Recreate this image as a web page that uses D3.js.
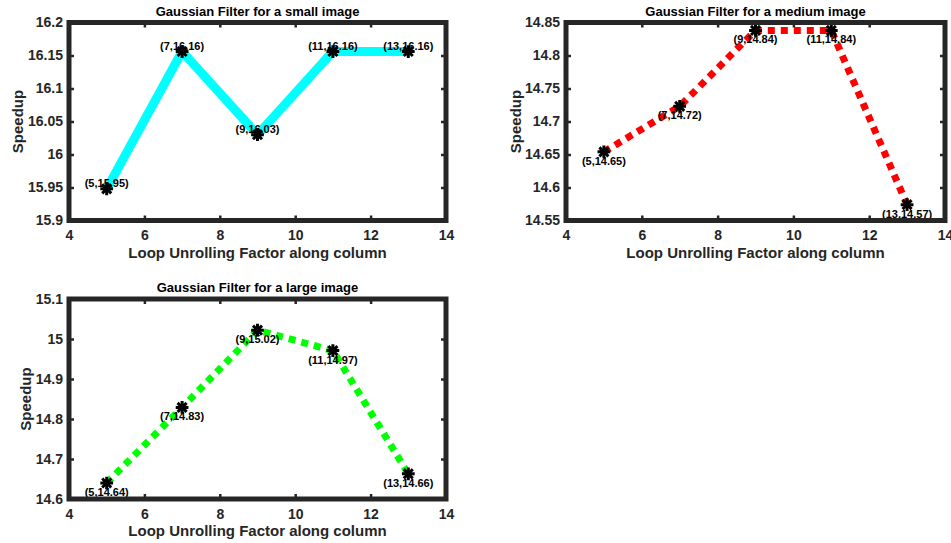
<!DOCTYPE html>
<html>
<head>
<meta charset="utf-8">
<script src="https://cdn.jsdelivr.net/npm/d3@7"></script>
<style>
  body { margin: 0; background: #fff; }
  svg { display: block; font-family: "Liberation Sans", Arial, sans-serif; }
</style>
</head>
<body>
<svg id="chart" width="951" height="543"></svg>
<script>
// Data
const unrollFactors = [5, 7, 9, 11, 13];
const smallSpeedup = [15.948, 16.156, 16.030, 16.156, 16.156];
const mediumSpeedup = [14.654, 14.723, 14.838, 14.838, 14.574];
const largeSpeedup = [14.640, 14.829, 15.022, 14.971, 14.663];

const xTicks = [4, 6, 8, 10, 12, 14];
const smallTicks = [15.9, 15.95, 16, 16.05, 16.1, 16.15, 16.2];
const mediumTicks = [14.55, 14.6, 14.65, 14.7, 14.75, 14.8, 14.85];
const largeTicks = [14.6, 14.7, 14.8, 14.9, 15, 15.1];

const titles = ["Gaussian Filter for a small image",
                "Gaussian Filter for a medium image",
                "Gaussian Filter for a large image"];

const axisColor = "#262626";
const svg = d3.select("#chart");

// panel layout
const panels = [
    { title: titles[0], values: smallSpeedup, ticks: smallTicks, color: "#00ffff", dash: null,
      left: 69, right: 446, top: 22.5, bottom: 220.5, ylabelX: 17, labelDy: -6 },
    { title: titles[1], values: mediumSpeedup, ticks: mediumTicks, color: "#ff0000", dash: "7,6",
      left: 566, right: 945, top: 22.5, bottom: 220.5, ylabelX: 515, labelDy: 9 },
    { title: titles[2], values: largeSpeedup, ticks: largeTicks, color: "#00ff00", dash: "7,6",
      left: 69, right: 446, top: 299, bottom: 499, ylabelX: 25, labelDy: 9 }
];

const fmt = d => String(+d.toFixed(2));
const pointFmt = d3.format(".2f");

panels.forEach(p => {
    const x = d3.scaleLinear().domain([4, 14]).range([p.left, p.right]);
    const y = d3.scaleLinear().domain(d3.extent(p.ticks)).range([p.bottom, p.top]);
    const g = svg.append("g");

    // axes with inward ticks
    const styleAxis = sel => {
        sel.select(".domain").remove();
        sel.selectAll(".tick line").attr("stroke", axisColor).attr("stroke-width", 2.5);
        sel.selectAll(".tick text")
            .attr("fill", axisColor)
            .style("font-size", "14px")
            .style("font-weight", "bold");
    };
    g.append("g").attr("transform", `translate(0,${p.bottom})`)
        .call(d3.axisBottom(x).tickValues(xTicks).tickFormat(fmt).tickSizeInner(-5).tickSizeOuter(0).tickPadding(10))
        .call(styleAxis);
    g.append("g").attr("transform", `translate(0,${p.top})`)
        .call(d3.axisTop(x).tickValues(xTicks).tickFormat("").tickSizeInner(-5).tickSizeOuter(0))
        .call(styleAxis);
    g.append("g").attr("transform", `translate(${p.left},0)`)
        .call(d3.axisLeft(y).tickValues(p.ticks).tickFormat(fmt).tickSizeInner(-5).tickSizeOuter(0).tickPadding(6))
        .call(styleAxis);
    g.append("g").attr("transform", `translate(${p.right},0)`)
        .call(d3.axisRight(y).tickValues(p.ticks).tickFormat("").tickSizeInner(-5).tickSizeOuter(0))
        .call(styleAxis);

    // series line
    const pts = unrollFactors.map((f, i) => [f, p.values[i]]);
    g.append("path")
        .datum(pts)
        .attr("fill", "none")
        .attr("stroke", p.color)
        .attr("stroke-width", p.dash ? 7 : 9)
        .attr("stroke-dasharray", p.dash)
        .attr("stroke-linejoin", "round")
        .attr("d", d3.line().x(d => x(d[0])).y(d => y(d[1])));

    // star markers
    [d3.symbolPlus, d3.symbolTimes].forEach(sym => {
        g.append("g").selectAll("path")
            .data(pts)
            .join("path")
            .attr("transform", d => `translate(${x(d[0])},${y(d[1])})`)
            .attr("d", d3.symbol().type(sym).size(55))
            .attr("fill", "none")
            .attr("stroke", "#000")
            .attr("stroke-width", 3);
    });

    // point labels
    g.append("g").selectAll("text")
        .data(pts)
        .join("text")
        .attr("x", d => x(d[0]))
        .attr("y", d => y(d[1]) + p.labelDy)
        .attr("text-anchor", "middle")
        .attr("dominant-baseline", "central")
        .style("font-size", "11px")
        .style("font-weight", "bold")
        .attr("fill", "#000")
        .text(d => `(${d[0]},${pointFmt(d[1])})`);

    // box
    g.append("rect")
        .attr("x", p.left).attr("y", p.top)
        .attr("width", p.right - p.left).attr("height", p.bottom - p.top)
        .attr("fill", "none")
        .attr("stroke", axisColor)
        .attr("stroke-width", 5);

    // titles and labels
    const cx = (p.left + p.right) / 2;
    g.append("text")
        .attr("x", cx).attr("y", p.top - 7)
        .attr("text-anchor", "middle")
        .style("font-size", "13px").style("font-weight", "bold")
        .attr("fill", "#000")
        .text(p.title);
    g.append("text")
        .attr("x", cx).attr("y", p.bottom + 37)
        .attr("text-anchor", "middle")
        .style("font-size", "15px").style("font-weight", "bold")
        .attr("fill", axisColor)
        .text("Loop Unrolling Factor along column");
    g.append("text")
        .attr("transform", `translate(${p.ylabelX},${(p.top + p.bottom) / 2}) rotate(-90)`)
        .attr("text-anchor", "middle")
        .attr("dominant-baseline", "central")
        .style("font-size", "15px").style("font-weight", "bold")
        .attr("fill", axisColor)
        .text("Speedup");
});
</script>
</body>
</html>
